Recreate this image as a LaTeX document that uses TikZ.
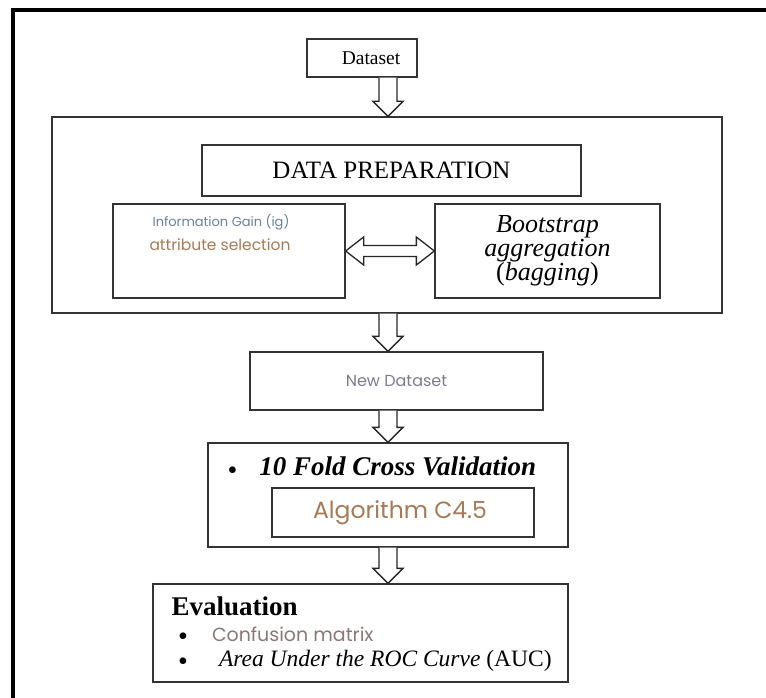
\documentclass[tikz,border=0pt]{standalone}
\usepackage{fontspec}
\setmainfont{Liberation Serif}
\newfontfamily\poppins{Poppins}
\usetikzlibrary{calc}
\definecolor{azulcinza}{HTML}{6B7F99}
\definecolor{marrom}{HTML}{A57A55}
\definecolor{cinzaclaro}{HTML}{7C7C8C}
\definecolor{cinzamarrom}{HTML}{8A7878}
\tikzset{
caixa/.style = {draw=black!80, line width=1.3pt, inner sep=0pt}
         }
\tikzset{
seta/.style = {draw=black!85, line width=1.3pt, fill=white, line join=miter}
         }
\newcommand{\marcador}{\smash{\fontsize{28}{28}\selectfont\raisebox{-4pt}{\textbullet}}}
% seta vazada vertical: sai de #1 e entra em #2, no eixo (E)
\newcommand{\setabaixo}[2]{%
  \path[seta] let \p1=(#1.south -| E), \p2=(#2.north -| E) in
    (\x1-9,\y1) -- (\x1-9,\y2+15) -- (\x1-15,\y2+15) -- (\x1,\y2) --
    (\x1+15,\y2+15) -- (\x1+9,\y2+15) -- (\x1+9,\y1);}

\begin{document}
\begin{tikzpicture}[x=1pt,y=-1pt]
    \useasboundingbox (0,0) rectangle (766,698);

          % MOLDURA
    \draw[line width=4pt] (13,698) -- (13,10) -- (766,10);
    \coordinate (E) at (388,0);

          % DATASET
    \node[caixa, minimum width=110, minimum height=38] (dataset) at (362,58)
      {\hspace{18pt}\fontsize{19.5}{22}\selectfont Dataset};

          % PREPARACAO
    \node[caixa, minimum width=670, minimum height=196] (prep) at (387,215) {};
    \node[caixa, minimum width=379, minimum height=51] (titulo) at (391.5,170.5)
      {\fontsize{25}{28}\selectfont DATA PREPARATION};
    \node[caixa, minimum width=232, minimum height=94] (ig) at (229,251) {};
    \node (igtexto) at (221,222)
      {\poppins\fontsize{13}{15}\selectfont\color{azulcinza}Information Gain (ig)};
    \node (attr) at (220,245)
      {\poppins\fontsize{15.5}{18}\selectfont\color{marrom}attribute selection};
    \node[caixa, minimum width=225, minimum height=94, align=center] (bag) at (547.5,251)
      {\fontsize{26}{26}\selectfont\itshape Bootstrap\\
       \fontsize{26}{26}\selectfont\itshape aggregation\\
       \fontsize{26}{26}\selectfont(\textit{bagging})};
    \path[seta] let \p1=(ig.east), \p2=(bag.west) in
      (\x1,\y1) -- (\x1+18,\y1+14) -- (\x1+18,\y1+5.5) -- (\x2-18,\y1+5.5) --
      (\x2-18,\y1+14) -- (\x2,\y1) -- (\x2-18,\y1-14) -- (\x2-18,\y1-5.5) --
      (\x1+18,\y1-5.5) -- (\x1+18,\y1-14) -- cycle;

          % NOVO DATASET
    \node[caixa, minimum width=293, minimum height=58] (novo) at (396.5,381)
      {\poppins\fontsize{16}{19}\selectfont\color{cinzaclaro}New Dataset};

          % VALIDACAO
    \node[caixa, minimum width=360, minimum height=104] (valid) at (388,495) {};
    \node[anchor=west] (dez) at (224,466)
      {\marcador\hspace{22pt}\fontsize{27}{30}\selectfont\textbf{\textit{10 Fold Cross Validation}}};
    \node[caixa, minimum width=262, minimum height=49] (algo) at (403,512.5)
      {\hspace{-6pt}\poppins\fontsize{23.5}{27}\selectfont\color{marrom}Algorithm C4.5};

          % AVALIACAO
    \node[caixa, minimum width=415, minimum height=98] (aval) at (360.5,633) {};
    \node[anchor=west] (titaval) at (168,606)
      {\fontsize{27}{30}\selectfont\textbf{Evaluation}};
    \node[anchor=west, inner sep=0pt] (conf) at (178,634)
      {\marcador\hspace{24pt}\poppins\fontsize{19}{22}\selectfont\color{cinzamarrom}Confusion matrix};
    \node[anchor=west, inner sep=0pt] (auc) at (178,661)
      {\marcador\hspace{31pt}\fontsize{23.5}{26}\selectfont\textit{Area Under the ROC Curve} (AUC)};

          % SETAS
    \setabaixo{dataset}{prep}
    \setabaixo{prep}{novo}
    \setabaixo{novo}{valid}
    \setabaixo{valid}{aval}

\end{tikzpicture}
\end{document}
